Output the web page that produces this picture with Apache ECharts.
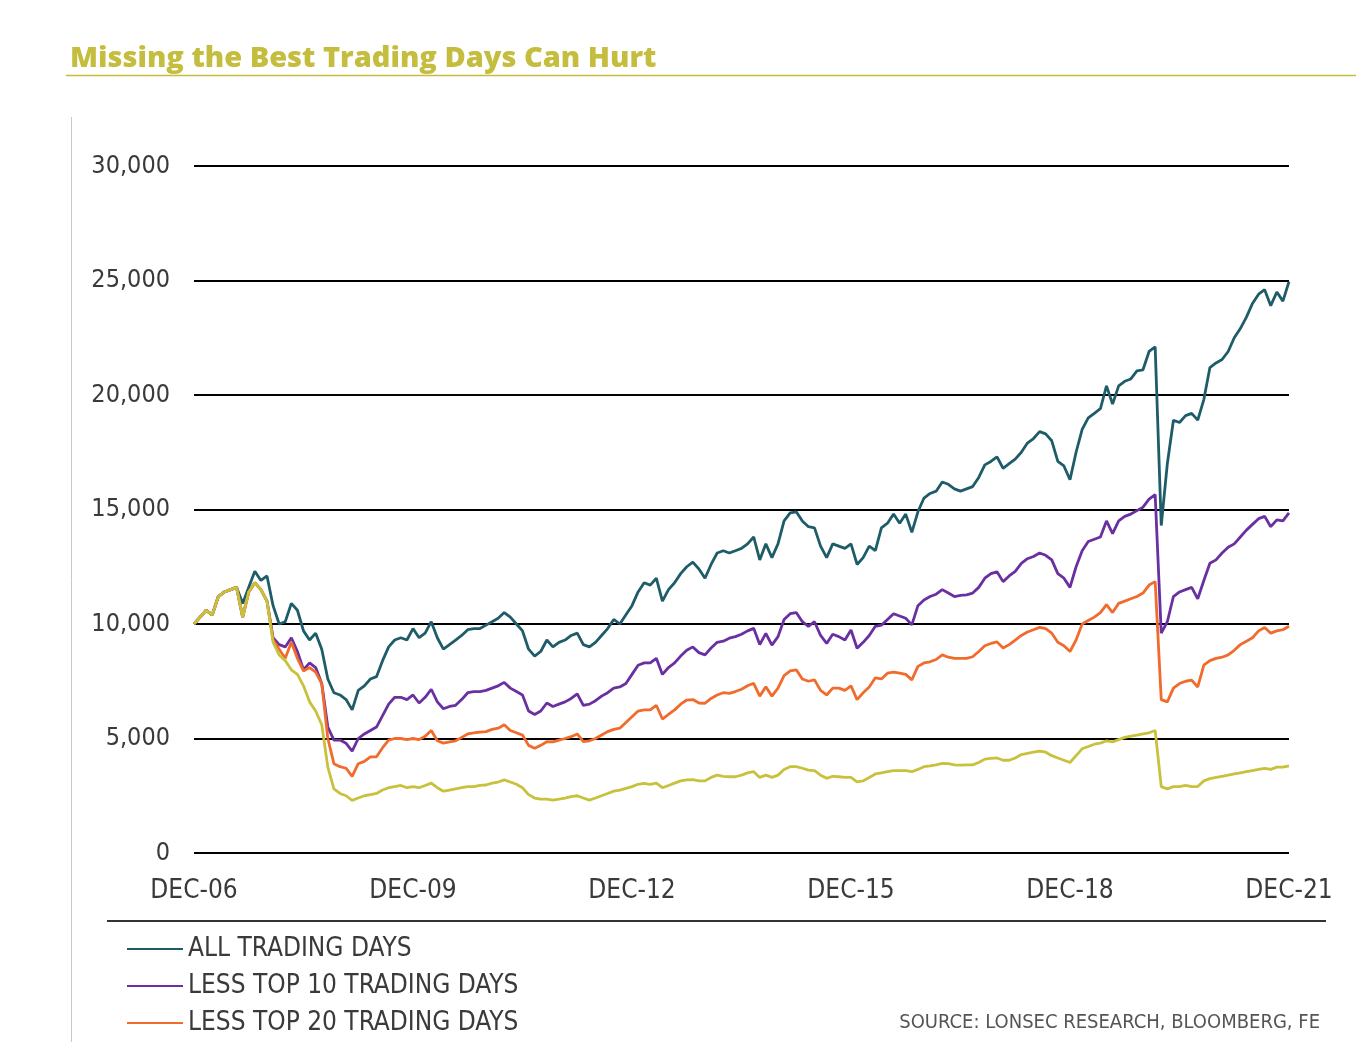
<!DOCTYPE html>
<html>
<head>
<meta charset="utf-8">
<script src="https://cdn.jsdelivr.net/npm/echarts@6/dist/echarts.min.js"></script>
<style>
  html, body { margin: 0; padding: 0; background: #ffffff; }
  #chart { width: 1356px; height: 1064px; }
</style>
</head>
<body>
<div id="chart"></div>
<script>
// ---- Data (month-end values, Dec-2006 .. Dec-2021, starting value 10,000) ----
const MONTH_NAMES = ['JAN','FEB','MAR','APR','MAY','JUN','JUL','AUG','SEP','OCT','NOV','DEC'];
const START_YEAR = 2006, START_MONTH = 11, N_MONTHS = 181;
const categories = [];
for (let i = 0; i < N_MONTHS; i++) {
  const mi = (START_MONTH + i) % 12;
  const yr = START_YEAR + Math.floor((START_MONTH + i) / 12);
  categories.push(MONTH_NAMES[mi] + '-' + String(yr).slice(2));
}

const allTradingDays = [
  10000,10300,10600,10400,11200,11400,11500,11600,10900,11600,12300,11900,
  12100,10800,10000,10100,10900,10600,9700,9300,9600,8900,7600,7000,
  6900,6700,6250,7100,7300,7600,7700,8400,9000,9300,9400,9300,
  9800,9400,9600,10100,9400,8900,9100,9300,9500,9750,9800,9800,
  9950,10100,10250,10500,10300,10000,9700,8900,8600,8800,9300,9000,
  9200,9300,9500,9600,9100,9000,9200,9500,9800,10200,10000,10400,
  10800,11400,11800,11700,12000,11000,11500,11800,12200,12500,12700,12400,
  12000,12600,13100,13200,13100,13200,13300,13500,13800,12800,13500,12900,
  13500,14500,14850,14900,14500,14250,14200,13400,12900,13500,13400,13300,
  13500,12600,12900,13400,13200,14200,14400,14800,14400,14800,14000,14900,
  15500,15700,15800,16200,16100,15900,15800,15900,16000,16400,16950,17100,
  17300,16800,17000,17200,17500,17900,18100,18400,18300,18000,17100,16900,
  16300,17500,18500,19000,19200,19400,20400,19600,20400,20600,20700,21050,
  21100,21900,22100,14300,17000,18900,18800,19100,19200,18900,19800,21200,
  21400,21550,21900,22500,22900,23400,24000,24400,24600,23900,24500,24100,24950
];

const lessTop10 = [
  10000,10300,10600,10400,11200,11400,11500,11600,10300,11400,11800,11500,
  11000,9400,9100,9000,9400,8800,8000,8300,8100,7400,5500,4930,
  4930,4790,4450,5000,5200,5350,5500,6000,6500,6800,6800,6700,
  6900,6550,6800,7150,6600,6300,6400,6450,6700,7000,7050,7050,
  7100,7200,7300,7450,7200,7050,6900,6200,6050,6200,6550,6400,
  6500,6600,6750,6950,6450,6500,6650,6850,7000,7200,7250,7400,
  7800,8200,8300,8300,8500,7800,8100,8300,8600,8850,9000,8750,
  8650,8950,9200,9250,9380,9450,9550,9700,9810,9100,9590,9080,
  9450,10200,10450,10500,10100,9900,10100,9500,9150,9550,9450,9300,
  9740,8940,9200,9500,9900,9950,10200,10450,10350,10250,9960,10800,
  11050,11200,11300,11500,11350,11200,11250,11270,11350,11600,12000,12200,
  12280,11850,12100,12300,12650,12850,12950,13100,13000,12800,12200,12000,
  11600,12500,13200,13600,13700,13800,14500,13950,14500,14700,14800,14950,
  15100,15450,15650,9600,10100,11200,11400,11500,11600,11100,11900,12650,
  12800,13100,13350,13500,13800,14100,14350,14600,14700,14250,14550,14500,14850
];

const lessTop20 = [
  10000,10300,10600,10400,11200,11400,11500,11600,10300,11400,11800,11500,
  11000,9300,8900,8500,9200,8500,7950,8100,7900,7400,5000,3900,
  3770,3700,3350,3900,4000,4200,4200,4600,4930,5000,5000,4950,
  5000,4950,5100,5350,4900,4800,4850,4900,5050,5200,5250,5280,
  5300,5400,5450,5600,5350,5250,5150,4700,4570,4700,4860,4850,
  4930,5000,5080,5200,4860,4900,5000,5150,5300,5400,5450,5700,
  5950,6200,6250,6250,6450,5850,6050,6250,6500,6680,6700,6550,
  6540,6750,6900,7000,6970,7050,7150,7300,7410,6850,7260,6850,
  7200,7750,7950,8000,7600,7500,7560,7100,6900,7200,7200,7100,
  7300,6700,7000,7250,7650,7600,7850,7900,7850,7800,7560,8150,
  8300,8350,8450,8650,8550,8500,8500,8500,8570,8800,9050,9150,
  9220,8950,9100,9300,9500,9650,9750,9850,9800,9600,9200,9050,
  8800,9300,10000,10150,10300,10500,10850,10500,10900,11000,11100,11200,
  11350,11700,11850,6700,6600,7200,7400,7500,7550,7250,8200,8400,
  8500,8550,8650,8850,9100,9250,9400,9700,9850,9600,9700,9750,9900
];

const lessTop40 = [
  10000,10300,10600,10400,11200,11400,11500,11600,10300,11400,11800,11500,
  11000,9200,8650,8400,8000,7800,7300,6600,6200,5600,3750,2800,
  2600,2500,2300,2400,2500,2550,2600,2750,2850,2900,2950,2850,
  2900,2850,2950,3050,2850,2700,2750,2800,2850,2900,2900,2950,
  2970,3050,3100,3190,3100,3000,2850,2550,2400,2350,2350,2310,
  2350,2400,2460,2500,2400,2310,2400,2500,2600,2700,2750,2820,
  2900,3000,3040,3000,3050,2850,2950,3050,3150,3190,3200,3150,
  3150,3300,3400,3350,3330,3330,3400,3500,3550,3300,3400,3300,
  3400,3650,3770,3770,3700,3620,3600,3400,3260,3350,3330,3300,
  3300,3110,3150,3300,3450,3500,3550,3600,3600,3600,3550,3650,
  3770,3800,3850,3910,3900,3850,3840,3850,3850,3950,4100,4130,
  4150,4050,4050,4150,4300,4350,4400,4450,4400,4250,4150,4050,
  3950,4250,4550,4650,4750,4800,4900,4850,4950,5050,5100,5150,
  5200,5250,5350,2900,2800,2900,2900,2950,2900,2900,3150,3250,
  3300,3350,3400,3450,3500,3550,3600,3650,3700,3650,3750,3750,3800
];

const seriesNames = ['ALL TRADING DAYS', 'LESS TOP 10 TRADING DAYS', 'LESS TOP 20 TRADING DAYS', 'LESS TOP 40 TRADING DAYS'];
const seriesColors = ['#1f5c6a', '#6a2fa0', '#f06b2c', '#c8c13c'];
const yTicks = { min: 0, max: 30000, interval: 5000 };
const titleText = 'Missing the Best Trading Days Can Hurt';
const sourceText = 'SOURCE: LONSEC RESEARCH, BLOOMBERG, FE';

// ---- Chart ----
const NARROW = '"Liberation Sans Narrow", "DejaVu Sans Condensed", "Roboto", sans-serif';
const chart = echarts.init(document.getElementById('chart'), null, { renderer: 'canvas' });
const dataSets = [allTradingDays, lessTop10, lessTop20, lessTop40];

const option = {
  animation: false,
  backgroundColor: '#ffffff',
  grid: { left: 194, right: 67, top: 166, bottom: 211, containLabel: false },
  xAxis: {
    type: 'category',
    data: categories,
    boundaryGap: false,
    axisLine: { show: false },
    axisTick: { show: false },
    splitLine: { show: false },
    axisLabel: {
      interval: 35,
      showMaxLabel: true,
      margin: 25,
      fontFamily: NARROW,
      fontSize: 26,
      color: '#3a3a3a'
    }
  },
  yAxis: {
    type: 'value',
    min: yTicks.min,
    max: yTicks.max,
    interval: yTicks.interval,
    axisLine: { show: false },
    axisTick: { show: false },
    splitLine: { show: true, lineStyle: { color: '#000000', width: 2 } },
    axisLabel: {
      margin: 24,
      fontFamily: NARROW,
      fontSize: 25,
      color: '#3a3a3a',
      formatter: v => v.toLocaleString('en-US')
    }
  },
  legend: {
    data: seriesNames.slice(0, 3),
    orient: 'vertical',
    left: 127,
    top: 936,
    padding: 0,
    icon: 'rect',
    itemWidth: 56,
    itemHeight: 2,
    itemGap: 11,
    textStyle: { fontFamily: NARROW, fontSize: 26, color: '#3a3a3a', lineHeight: 26 }
  },
  series: dataSets.map((d, i) => ({
    name: seriesNames[i],
    type: 'line',
    data: d,
    symbol: 'none',
    lineStyle: { width: 2.8, color: seriesColors[i] },
    itemStyle: { color: seriesColors[i] },
    z: 2 + i
  })),
  graphic: [
    {
      type: 'text', left: 70, top: 44,
      style: { text: titleText, fill: '#c4bd3e', font: '800 29px "Open Sans", "Lato", sans-serif' }
    },
    {
      type: 'line', shape: { x1: 66, y1: 75.5, x2: 1356, y2: 75.5 },
      style: { stroke: '#c4bd3e', lineWidth: 1.5 }
    },
    {
      type: 'line', shape: { x1: 71.5, y1: 117, x2: 71.5, y2: 1042 },
      style: { stroke: '#c8c8c8', lineWidth: 1 }
    },
    {
      type: 'line', shape: { x1: 107, y1: 921, x2: 1326, y2: 921 },
      style: { stroke: '#333333', lineWidth: 2 }
    },
    {
      type: 'text', right: 36, top: 1013,
      style: { text: sourceText, fill: '#555555', font: '20px ' + NARROW }
    }
  ]
};
chart.setOption(option);
</script>
</body>
</html>
